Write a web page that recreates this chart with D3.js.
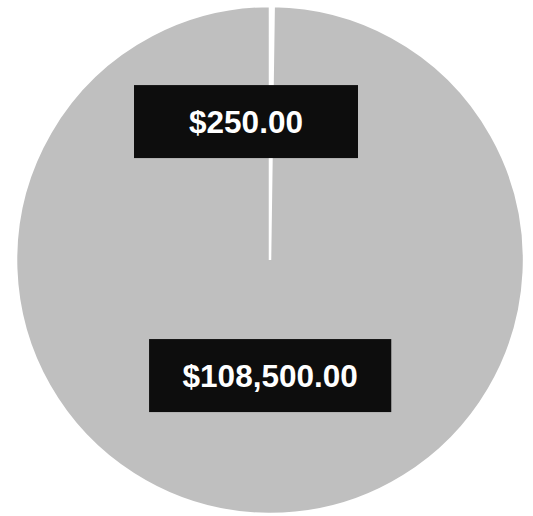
<!DOCTYPE html>
<html>
<head>
<meta charset="utf-8">
<script src="https://cdn.jsdelivr.net/npm/d3@7"></script>
<style>
  html, body { margin: 0; padding: 0; background: #fff; }
  svg { display: block; }
</style>
</head>
<body>
<div id="chart"></div>
<script>
const LABELS = ['$250.00', '$108,500.00']
const VALUES = [250, 108500]
const FILLS = ['#ffffff', '#bfbfbf']

const W = 533, H = 516
const CX = 270, CY = 260, R = 254

const svg = d3.select('#chart').append('svg')
  .attr('width', W).attr('height', H)

const g = svg.append('g').attr('transform', `translate(${CX},${CY})`)

const pie = d3.pie().sort(null).value(d => d)
const arcs = pie(VALUES)
const arc = d3.arc().innerRadius(0).outerRadius(R)

g.selectAll('path.slice').data(arcs).enter()
  .append('path')
  .attr('class', 'slice')
  .attr('d', arc)
  .attr('fill', (d, i) => FILLS[i])
  .attr('stroke', '#fff')
  .attr('stroke-width', 2.5)

// label placement: distance from centre as a share of the radius, plus a nudge
const labelDist = [0.545, 0.455]
const labelNudge = [-25, 1]
const minBoxW = [224, 0]
const boxH = 73

const labels = g.selectAll('g.label').data(arcs).enter()
  .append('g')
  .attr('class', 'label')
  .attr('transform', (d, i) => {
    const a = (d.startAngle + d.endAngle) / 2
    const x = Math.sin(a) * R * labelDist[i] + labelNudge[i]
    const y = -Math.cos(a) * R * labelDist[i]
    return `translate(${x},${y})`
  })

labels.append('rect').attr('fill', '#0d0d0d')
labels.append('text')
  .attr('text-anchor', 'middle')
  .attr('dy', '0.35em')
  .attr('fill', '#fff')
  .attr('font-family', '"Liberation Sans", Arial, sans-serif')
  .attr('font-weight', 'bold')
  .attr('font-size', 31.5)
  .text((d, i) => LABELS[i])

labels.each(function (d, i) {
  const t = d3.select(this).select('text').node().getBBox()
  const bw = Math.max(minBoxW[i], t.width + 67)
  d3.select(this).select('rect')
    .attr('x', -bw / 2).attr('y', -boxH / 2)
    .attr('width', bw).attr('height', boxH)
})
</script>
</body>
</html>
